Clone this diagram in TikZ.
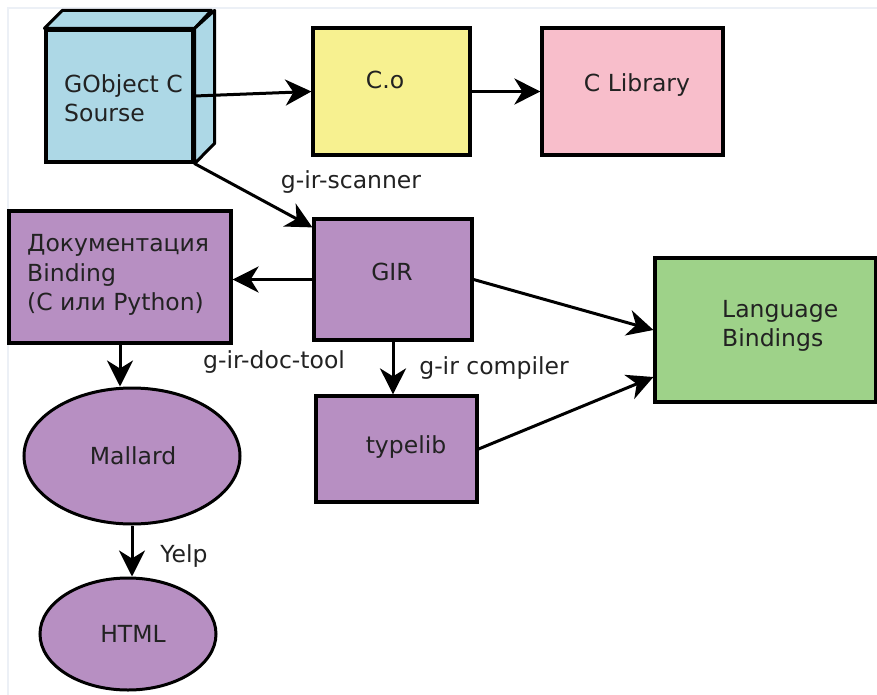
\documentclass[tikz,border=0pt]{standalone}
\usepackage{fontspec}
\setmainfont{DejaVu Sans}
\usetikzlibrary{arrows.meta,shapes.geometric}
\definecolor{cblue}{RGB}{173,216,230}
\definecolor{cyellow}{RGB}{247,241,144}
\definecolor{cpink}{RGB}{248,190,203}
\definecolor{cpurple}{RGB}{183,143,194}
\definecolor{cgreen}{RGB}{158,210,137}
\definecolor{ctext}{RGB}{34,34,34}
\definecolor{cframe}{RGB}{236,240,246}
\begin{document}
\begin{tikzpicture}[x=1pt,y=-1pt,
  box/.style={draw=black, line width=3.2pt, rectangle, inner sep=0pt},
  oval/.style={draw=black, line width=3pt, ellipse, inner sep=0pt, fill=cpurple},
  txt/.style={font=\fontsize{23.5}{29.5}\selectfont, text=ctext, inner sep=0pt},
  arr/.style={line width=3pt, -{Stealth[length=26pt,width=26pt,inset=8pt]}}]
\useasboundingbox (0,0) rectangle (877,695);
\fill[white] (0,0) rectangle (877,695);
\draw[cframe, line width=1.2pt] (8,695) -- (8,8) -- (877,8);
% cube
\node[box, fill=cblue, minimum width=147pt, minimum height=132pt] (cube) at (119.5,96) {};
\draw[line width=3pt, fill=cblue, line join=round] (cube.north west) -- ++(18,-18) -- ++(149,0) -- (cube.north east) -- cycle;
\draw[line width=3pt, fill=cblue, line join=round] (cube.north east) -- ++(20,-18) -- ++(0,133) -- (cube.south east) -- cycle;
\node[txt, anchor=west, align=left] (cubet) at (64,98) {GObject C\\Sourse};
% boxes
\node[box, fill=cyellow, minimum width=157pt, minimum height=127pt] (co) at (391.5,91.5) {};
\node[txt] (cot) at (385,80) {C.o};
\node[box, fill=cpink, minimum width=181pt, minimum height=127pt] (clib) at (632.5,91.5) {};
\node[txt] (clibt) at (637,85) {C Library};
\node[box, fill=cpurple, minimum width=158pt, minimum height=121pt] (gir) at (393,279.5) {};
\node[txt] (girt) at (392,272) {GIR};
\node[box, fill=cpurple, minimum width=222pt, minimum height=132pt] (doc) at (120,277) {};
\node[txt, anchor=west, align=left] (doct) at (27,275) {Документация\\Binding\\(С или Python)};
\node[box, fill=cgreen, minimum width=221pt, minimum height=144pt] (lb) at (765.5,330) {};
\node[txt, anchor=west, align=left] (lbt) at (722,326) {Language\\Bindings};
\node[box, fill=cpurple, minimum width=161pt, minimum height=106pt] (tl) at (396.5,449) {};
\node[txt] (tlt) at (406,447) {typelib};
\node[oval, minimum width=216pt, minimum height=136pt] (mal) at (132,456) {};
\node[txt] (malt) at (133,456) {Mallard};
\node[oval, minimum width=176pt, minimum height=112pt] (html) at (128,634) {};
\node[txt] (htmlt) at (133,634) {HTML};
% labels
\node[txt] (l1) at (351,182) {g-ir-scanner};
\node[txt] (l2) at (274,362) {g-ir-doc-tool};
\node[txt] (l3) at (494,368) {g-ir compiler};
\node[txt] (l4) at (184,556) {Yelp};
% arrows
\draw[arr] (cube.east) -- (co.west);
\draw[arr] (co.east) -- (clib.west);
\draw[arr] (cube.south east) -- ([yshift=-10pt]gir.north west);
\draw[arr] (gir.west) -- (doc.east |- gir.west);
\draw[arr] (doc.south) -- (doc.south |- mal.north);
\draw[arr] (gir.south) -- (gir.south |- tl.north);
\draw[arr] (gir.east) -- (lb.west);
\draw[arr] (tl.east) -- ([yshift=-47pt]lb.west);
\draw[arr] (mal.south) -- (mal.south |- html.north);
\end{tikzpicture}
\end{document}
